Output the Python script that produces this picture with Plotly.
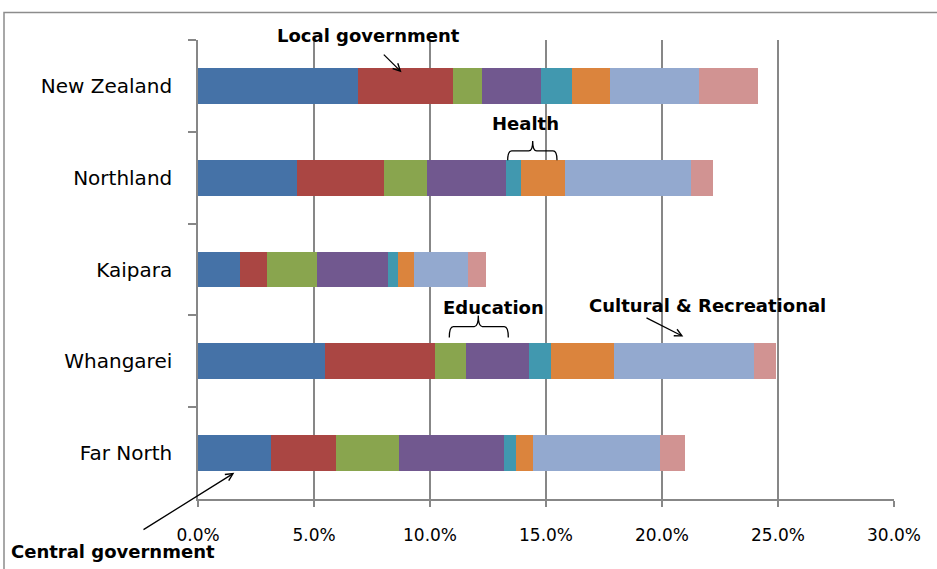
import plotly.graph_objects as go

# ---- data (percent) ----
categories = ["New Zealand", "Northland", "Kaipara", "Whangarei", "Far North"]
central_government = [6.90, 4.27, 1.82, 5.46, 3.16]
local_government = [4.07, 3.73, 1.16, 4.74, 2.80]
education_a = [1.29, 1.88, 2.14, 1.37, 2.72]
education_b = [2.53, 3.40, 3.06, 2.70, 4.52]
health_a = [1.34, 0.66, 0.43, 0.96, 0.49]
health_b = [1.64, 1.87, 0.68, 2.72, 0.76]
cultural_recreational = [3.81, 5.43, 2.35, 6.02, 5.47]
other = [2.54, 0.95, 0.79, 0.93, 1.07]

x_ticks = [0, 5, 10, 15, 20, 25, 30]
x_tick_labels = ["0.0%", "5.0%", "10.0%", "15.0%", "20.0%", "25.0%", "30.0%"]

series = [
    ("Central government", central_government, "#4572A7"),
    ("Local government", local_government, "#AA4643"),
    ("Education A", education_a, "#89A54E"),
    ("Education B", education_b, "#71588F"),
    ("Health A", health_a, "#4198AF"),
    ("Health B", health_b, "#DB843D"),
    ("Cultural & Recreational", cultural_recreational, "#93A9CF"),
    ("Other", other, "#D19392"),
]

W, H = 937, 569
L, R, T, B = 198, 43, 39.5, 69.5
PW, PH = W - L - R, H - T - B


def px(xp):
    return (xp - L) / PW


def py(yp):
    return (H - B - yp) / PH


fig = go.Figure()
for name, vals, col in series:
    fig.add_trace(go.Bar(
        y=categories, x=vals, name=name, orientation="h",
        marker=dict(color=col, line=dict(width=0)),
    ))

GRID = "#878787"
fig.update_layout(
    barmode="stack",
    bargap=0.61,
    showlegend=False,
    width=W, height=H,
    margin=dict(l=L, r=R, t=T, b=B, pad=0, autoexpand=False),
    paper_bgcolor="white",
    plot_bgcolor="white",
    font=dict(family="DejaVu Sans", color="black"),
    xaxis=dict(
        range=[0, 30], tickvals=x_ticks, ticktext=x_tick_labels,
        showgrid=True, gridcolor=GRID, gridwidth=1.5,
        showline=True, linecolor=GRID, linewidth=1.5,
        ticks="outside", ticklen=6, tickcolor=GRID, tickwidth=1.5,
        tickfont=dict(size=17, family="DejaVu Sans", color="black"),
        ticklabelstandoff=14, automargin=False,
        zeroline=False,
    ),
    yaxis=dict(
        autorange="reversed",
        showline=True, linecolor=GRID, linewidth=1.5,
        ticks="outside", ticklen=8, tickcolor=GRID, tickwidth=1.5,
        tickson="boundaries",
        tickfont=dict(size=20, family="DejaVu Sans", color="black"),
        ticklabelstandoff=20, automargin=False,
        showgrid=False,
    ),
)

# outer chart border
fig.add_shape(type="rect", xref="paper", yref="paper",
              x0=px(4), x1=px(1200), y0=py(900), y1=py(12),
              line=dict(color="#8c8c8c", width=1.5), fillcolor="rgba(0,0,0,0)", layer="below")

bold = dict(family="DejaVu Sans", size=18, color="black")

# text labels
labels = [
    ("<b>Local government</b>", 368, 35),
    ("<b>Health</b>", 525.5, 123.5),
    ("<b>Education</b>", 493, 308),
    ("<b>Cultural & Recreational</b>", 707.5, 306),
    ("<b>Central government</b>", 113, 552),
]
for txt, xp, yp in labels:
    fig.add_annotation(text=txt, xref="paper", yref="paper", x=px(xp), y=py(yp),
                       xanchor="center", yanchor="middle", showarrow=False, font=bold)

# arrows (tail -> tip)
arrows = [
    ((382.3, 52.7), (401.5, 71.7)),
    ((645, 317.3), (683.3, 336.7)),
    ((142, 531), (234.3, 473.3)),
]
for (tx, ty), (hx, hy) in arrows:
    fig.add_annotation(text="", xref="paper", yref="paper", x=px(hx), y=py(hy),
                       ax=tx - hx, ay=ty - hy, showarrow=True,
                       arrowhead=5, arrowsize=1.1, arrowwidth=1.3, arrowcolor="black",
                       standoff=0, startstandoff=0)


def brace(x0, x1, xc, yt, ym, yb, r=4):
    p = (f"M {px(x0)},{py(yb)} Q {px(x0)},{py(ym)} {px(x0 + r)},{py(ym)} "
         f"L {px(xc - r)},{py(ym)} Q {px(xc)},{py(ym)} {px(xc)},{py(yt)} "
         f"Q {px(xc)},{py(ym)} {px(xc + r)},{py(ym)} "
         f"L {px(x1 - r)},{py(ym)} Q {px(x1)},{py(ym)} {px(x1)},{py(yb)}")
    fig.add_shape(type="path", xref="paper", yref="paper", path=p,
                  line=dict(color="black", width=1.3))


brace(507.7, 557, 532.7, 140.7, 150.7, 160)
brace(449.3, 508.3, 478.3, 315.7, 326.7, 337.7)

fig.write_html("out.html", config={"displayModeBar": False},
               post_script="document.body.style.margin='0';document.body.style.overflow='hidden';")
